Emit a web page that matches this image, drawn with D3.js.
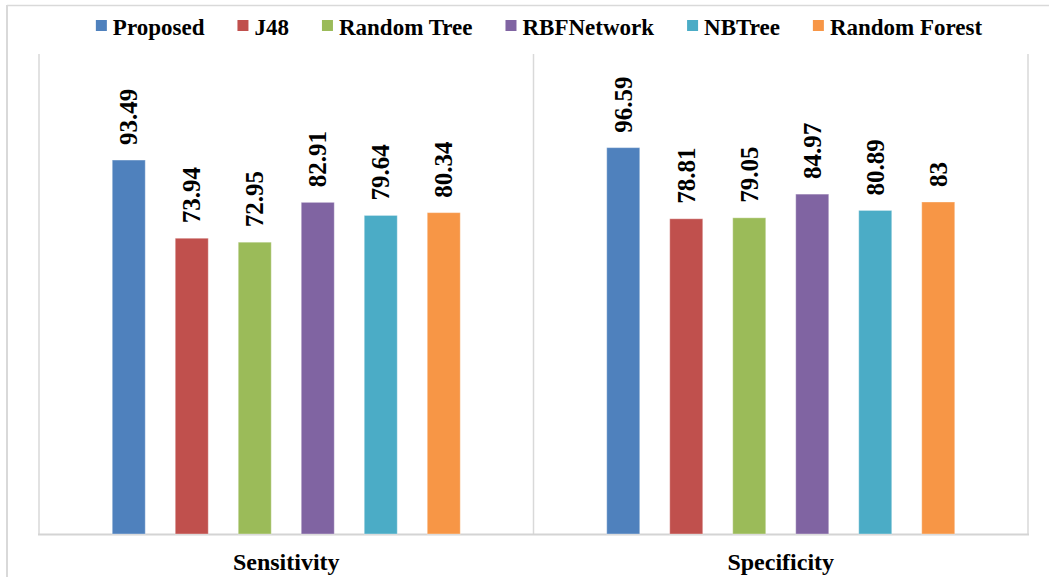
<!DOCTYPE html>
<html>
<head>
<meta charset="utf-8">
<script src="https://cdn.jsdelivr.net/npm/d3@7"></script>
<style>
  html, body { margin: 0; padding: 0; background: #fff; }
  svg { display: block; }
  text { font-family: "Liberation Serif", "Times New Roman", Times, serif; font-weight: bold; fill: #000; }
</style>
</head>
<body>
<svg id="chart" width="1049" height="577"></svg>
<script>
const categories = ["Sensitivity", "Specificity"];
const series = ["Proposed", "J48", "Random Tree", "RBFNetwork", "NBTree", "Random Forest"];
const sensitivityValues = [93.49, 73.94, 72.95, 82.91, 79.64, 80.34];
const specificityValues = [96.59, 78.81, 79.05, 84.97, 80.89, 83];
const valueLabels = [
  ["93.49", "73.94", "72.95", "82.91", "79.64", "80.34"],
  ["96.59", "78.81", "79.05", "84.97", "80.89", "83"]
];
const colors = ["#4F81BD", "#C0504D", "#9BBB59", "#8064A2", "#4BACC6", "#F79646"];
const yMax = 120;

const svg = d3.select("#chart");
const plot = { left: 39, right: 1028, top: 54, bottom: 534 };
const values = [sensitivityValues, specificityValues];

// outer frame (partially visible)
svg.append("line").attr("x1", 7).attr("x2", 1049).attr("y1", 5.5).attr("y2", 5.5)
  .attr("stroke", "#d9d9d9").attr("stroke-width", 1.5);
svg.append("line").attr("x1", 7).attr("x2", 7).attr("y1", 5).attr("y2", 577)
  .attr("stroke", "#d9d9d9").attr("stroke-width", 2);

const x0 = d3.scaleBand().domain(categories).range([plot.left, plot.right]).padding(0);
const y = d3.scaleLinear().domain([0, yMax]).range([plot.bottom, plot.top]);

// category separators (vertical gridlines)
const seps = [plot.left, ...categories.map(c => x0(c) + x0.bandwidth())];
svg.selectAll("line.sep").data(seps).enter().append("line")
  .attr("class", "sep")
  .attr("x1", d => d).attr("x2", d => d)
  .attr("y1", y(yMax)).attr("y2", y(0))
  .attr("stroke", "#d9d9d9").attr("stroke-width", 1.5);

// x axis line
svg.append("line").attr("x1", plot.left - 1).attr("x2", plot.right + 1)
  .attr("y1", y(0) + 0.5).attr("y2", y(0) + 0.5)
  .attr("stroke", "#d4d4d4").attr("stroke-width", 2);

const groupWidth = 378;
categories.forEach((cat, ci) => {
  const cx = x0(cat) + x0.bandwidth() / 2;
  const x1 = d3.scaleBand().domain(series)
    .range([cx - groupWidth / 2, cx + groupWidth / 2])
    .paddingInner(0.476).paddingOuter(0.238);
  const g = svg.append("g");
  g.selectAll("rect").data(series).enter().append("rect")
    .attr("x", s => x1(s))
    .attr("y", (s, i) => y(values[ci][i]))
    .attr("width", x1.bandwidth())
    .attr("height", (s, i) => y(0) - y(values[ci][i]))
    .attr("fill", (s, i) => colors[i])
    .attr("stroke", "rgba(255,255,255,0.35)")
    .attr("stroke-width", 1);
  g.selectAll("text.val").data(series).enter().append("text")
    .attr("class", "val")
    .attr("transform", (s, i) => `translate(${x1(s) + x1.bandwidth() / 2},${y(values[ci][i]) - 15}) rotate(-90)`)
    .attr("dy", "0.34em")
    .attr("text-anchor", "start")
    .style("font-size", "25px")
    .text((s, i) => valueLabels[ci][i]);
  svg.append("text")
    .attr("x", cx).attr("y", 570)
    .attr("text-anchor", "middle")
    .style("font-size", "24px")
    .text(cat);
});

// legend
const legend = svg.append("g");
const items = legend.selectAll("g").data(series).enter().append("g");
items.append("rect").attr("width", 11).attr("height", 11).attr("y", -15)
  .attr("fill", (s, i) => colors[i]);
items.append("text").attr("x", 17).attr("y", 0).style("font-size", "23px").text(s => s);
const widths = [];
items.each(function() {
  widths.push(17 + this.querySelector("text").getComputedTextLength());
});
const gap = 33;
const total = d3.sum(widths) + gap * (series.length - 1);
let start = 539 - total / 2;
items.attr("transform", (s, i) => {
  const t = `translate(${start},35)`;
  start += widths[i] + gap;
  return t;
});
</script>
</body>
</html>
